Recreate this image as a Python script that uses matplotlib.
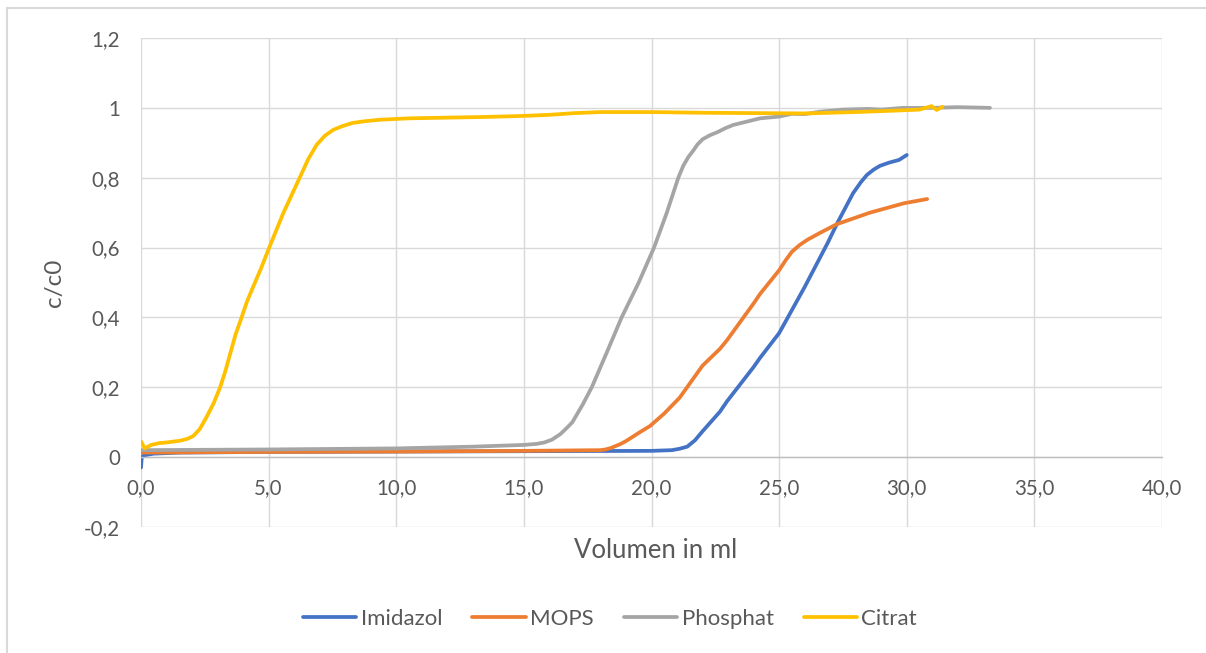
import matplotlib
matplotlib.use("Agg")
import matplotlib.pyplot as plt
from matplotlib.lines import Line2D
from matplotlib.ticker import FuncFormatter, MultipleLocator

plt.rcParams['font.family'] = ['Lato', 'DejaVu Sans']

# Titrationskurven, c/c0 gegen zugegebenes Volumen
imidazol_x = [0, 0.03, 0.1, 0.5, 1.5, 5, 10, 15, 20, 20.8, 21.1, 21.4, 21.7, 22.0, 22.68, 22.96,
              24.0, 24.25, 25.0, 26.0, 26.9, 27.3, 27.9, 28.2, 28.44, 28.7, 28.95, 29.3, 29.7, 30.0]
imidazol_y = [-0.03, 0.0, 0.005, 0.01, 0.013, 0.015, 0.016, 0.017, 0.018, 0.02, 0.024, 0.03, 0.048,
              0.074, 0.13, 0.16, 0.258, 0.284, 0.355, 0.487, 0.613, 0.673, 0.756, 0.787, 0.808,
              0.823, 0.834, 0.843, 0.851, 0.865]

mops_x = [0, 5, 10, 15, 18.0, 18.2, 18.4, 18.6, 18.77, 19.0, 19.3, 19.6, 19.94, 20.5, 21.1, 22.0,
          22.68, 22.96, 24.0, 24.25, 25.0, 25.25, 25.5, 25.8, 26.1, 26.6, 27.26, 28.56, 29.9, 30.8]
mops_y = [0.013, 0.015, 0.016, 0.018, 0.02, 0.022, 0.026, 0.032, 0.037, 0.046, 0.06, 0.074, 0.089,
          0.125, 0.17, 0.262, 0.31, 0.335, 0.44, 0.467, 0.535, 0.563, 0.588, 0.607, 0.622, 0.642,
          0.667, 0.70, 0.727, 0.739]

phosphat_x = [0, 5, 10, 13, 15, 15.5, 15.8, 16.1, 16.43, 16.7, 16.9, 17.1, 17.3, 17.66, 18.25,
              18.83, 19.5, 20.1, 20.6, 21.05, 21.25, 21.45, 21.63, 21.8, 22.0, 22.3, 22.57, 22.9,
              23.2, 24.25, 25.0, 25.5, 26.0, 26.6, 27.5, 28.5, 29.0, 29.85, 31, 32, 33.26]
phosphat_y = [0.02, 0.022, 0.025, 0.03, 0.035, 0.038, 0.042, 0.05, 0.066, 0.085, 0.1, 0.125, 0.15,
              0.2, 0.3, 0.4, 0.5, 0.6, 0.7, 0.8, 0.835, 0.86, 0.877, 0.895, 0.91, 0.922, 0.93,
              0.942, 0.951, 0.97, 0.975, 0.983, 0.982, 0.989, 0.995, 0.997, 0.995, 1.0, 1.0,
              1.002, 1.0]

citrat_x = [0, 0.15, 0.4, 0.7, 1.0, 1.53, 1.8, 2.04, 2.3, 2.57, 2.85, 3.1, 3.3, 3.49, 3.7, 3.94,
            4.15, 4.39, 4.7, 4.98, 5.57, 6.23, 6.55, 6.88, 7.2, 7.53, 7.9, 8.3, 8.8, 9.36, 10.5,
            12, 13.5, 15, 16, 17, 18, 20, 22, 24, 26, 28, 29.5, 30.5, 30.97, 31.17, 31.4]
citrat_y = [0.045, 0.025, 0.035, 0.04, 0.042, 0.047, 0.052, 0.06, 0.08, 0.115, 0.155, 0.2, 0.245,
            0.295, 0.35, 0.4, 0.445, 0.487, 0.54, 0.592, 0.698, 0.802, 0.853, 0.894, 0.92, 0.937,
            0.948, 0.957, 0.962, 0.966, 0.97, 0.972, 0.974, 0.977, 0.98, 0.985, 0.988, 0.988,
            0.986, 0.985, 0.984, 0.988, 0.992, 0.995, 1.005, 0.994, 1.003]

series = [
    ("Imidazol", imidazol_x, imidazol_y, "#4472C4"),
    ("MOPS", mops_x, mops_y, "#ED7D31"),
    ("Phosphat", phosphat_x, phosphat_y, "#A5A5A5"),
    ("Citrat", citrat_x, citrat_y, "#FFC000"),
]

TEXT = "#595959"
GRID = "#d9d9d9"

fig = plt.figure(figsize=(12.06, 6.53), dpi=100)
ax = fig.add_axes([141 / 1206, 1 - 527 / 653, (1162 - 141) / 1206, (527 - 38) / 653])

for name, xs, ys, col in series:
    ax.plot(xs, ys, color=col, lw=2.7, label=name,
            solid_capstyle="round", solid_joinstyle="round")

ax.set_xlim(0, 40)
ax.set_ylim(-0.2, 1.2)
ax.xaxis.set_major_locator(MultipleLocator(5))
ax.yaxis.set_major_locator(MultipleLocator(0.2))
ax.xaxis.set_major_formatter(FuncFormatter(lambda v, p: f"{v:.1f}".replace(".", ",")))
ax.yaxis.set_major_formatter(FuncFormatter(lambda v, p: f"{round(v, 1):g}".replace(".", ",")))

ax.grid(True, color=GRID, lw=1.0)
ax.set_axisbelow(True)
for s in ["top", "right", "left"]:
    ax.spines[s].set_visible(False)
ax.spines["bottom"].set_position(("data", 0))
ax.spines["bottom"].set_color("#bfbfbf")
ax.spines["bottom"].set_linewidth(1.0)

ax.tick_params(axis="both", length=0, labelsize=14.8, labelcolor=TEXT)
ax.tick_params(axis="x", pad=15)
ax.tick_params(axis="y", pad=15)

ax.set_ylabel("c/c0", fontsize=17.5, color=TEXT, labelpad=14)
fig.text(656 / 1206, 1 - 550 / 653, "Volumen in ml", ha="center", va="center",
         fontsize=18.5, color=TEXT)

fig.legend(loc="center", bbox_to_anchor=(610 / 1206, 1 - 619 / 653), ncol=4,
           frameon=False, fontsize=16, labelcolor=TEXT, handlelength=2.4,
           handletextpad=0.2, columnspacing=1.35)

# chart frame (only the top and left edges fall inside the image)
fig.add_artist(Line2D([7 / 1206, 1], [1 - 7.5 / 653] * 2, transform=fig.transFigure,
                      color=GRID, lw=1.5))
fig.add_artist(Line2D([7 / 1206] * 2, [0, 1 - 7.5 / 653], transform=fig.transFigure,
                      color=GRID, lw=1.5))

fig.savefig("out.png", dpi=100, facecolor="white")
